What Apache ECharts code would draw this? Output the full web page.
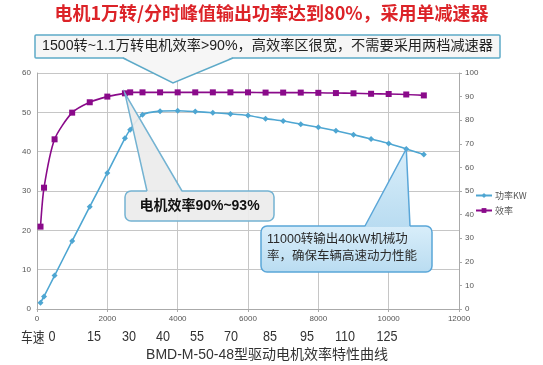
<!DOCTYPE html>
<html><head><meta charset="utf-8">
<script src="https://cdn.jsdelivr.net/npm/echarts@6/dist/echarts.min.js"></script>
<style>html,body{margin:0;padding:0;background:#fff}#c{width:543px;height:365px}</style>
</head><body><div id="c"></div>
<script>
// ---- data ----
const rpm   = [100,200,500,1000,1500,2000,2500,2650,3000,3500,4000,4500,5000,5500,6000,6500,7000,7500,8000,8500,9000,9500,10000,10500,11000];
const power = [1.6,3.2,8.5,17.3,26.0,34.6,43.4,45.6,49.4,50.3,50.4,50.2,49.9,49.6,49.2,48.4,47.8,47.0,46.2,45.3,44.3,43.2,42.1,40.7,39.3];
const eff   = [34.9,51.4,71.9,83.2,87.6,90.0,91.4,91.8,91.8,91.8,91.8,91.8,91.8,91.8,91.8,91.7,91.7,91.7,91.6,91.5,91.4,91.2,91.1,90.9,90.5];
const seriesNames = ['功率KW','效率'];
const speedLabels = ['0','15','30','40','55','70','85','95','110','125'];
const titleText = '电机1万转/分时峰值输出功率达到80%，采用单减速器';
const subTitle = 'BMD-M-50-48型驱动电机效率特性曲线';
const noteTop = '1500转~1.1万转电机效率>90%，高效率区很宽，不需要采用两档减速器';
const noteMid = '电机效率90%~93%';
const noteBot = '11000转输出40kW机械功\n率，确保车辆高速动力性能';

// ---- chart ----
const FF = 'Liberation Sans, Arial, Noto Sans CJK SC, sans-serif';
const chart = echarts.init(document.getElementById('c'));
const gridColor = '#c6c6c6';
const plain = v => String(v);
chart.setOption({
  animation:false,
  textStyle:{fontFamily:FF},
  grid:{left:37,right:84,top:73,bottom:56},
  xAxis:{type:'value',min:0,max:12000,interval:2000,
    axisLine:{lineStyle:{color:'#aaa'}},
    axisTick:{show:true,length:3,lineStyle:{color:'#aaa'}},
    axisLabel:{fontSize:8,color:'#555',margin:6,formatter:plain},
    splitLine:{show:true,lineStyle:{color:gridColor}}},
  yAxis:[
    {type:'value',min:0,max:60,interval:10,position:'left',
     axisLine:{show:true,lineStyle:{color:'#aaa'}},axisTick:{show:false},
     axisLabel:{fontSize:8,color:'#555',margin:6,formatter:plain},
     splitLine:{show:true,lineStyle:{color:gridColor}}},
    {type:'value',min:0,max:100,interval:10,position:'right',
     axisLine:{show:true,lineStyle:{color:'#aaa'}},
     axisTick:{show:true,length:3,lineStyle:{color:'#aaa'}},
     axisLabel:{fontSize:8,color:'#555',margin:6,formatter:plain},
     splitLine:{show:false}}
  ],
  legend:{orient:'vertical',left:470,top:186,itemWidth:16,itemHeight:6,itemGap:6,
    textStyle:{fontSize:9,color:'#555',fontFamily:'Noto Sans CJK SC, sans-serif',padding:[0,0,0,-2]},data:seriesNames},
  series:[
    {name:seriesNames[0],type:'line',data:rpm.map((x,i)=>[x,power[i]]),
     symbol:'diamond',symbolSize:6,smooth:0.25,z:3,
     lineStyle:{color:'#4ea6d2',width:1.6},itemStyle:{color:'#4ea6d2'}},
    {name:seriesNames[1],type:'line',yAxisIndex:1,data:rpm.map((x,i)=>[x,eff[i]]),
     symbol:'rect',symbolSize:6,smooth:0.25,z:3,
     lineStyle:{color:'#8a0a8a',width:1.6},itemStyle:{color:'#8a0a8a'}}
  ]
});

// ---- annotations ----
const midTip = chart.convertToPixel({xAxisIndex:0,yAxisIndex:1},[rpm[6],eff[6]]);
const botTip = chart.convertToPixel({xAxisIndex:0,yAxisIndex:0},[rpm[23],power[23]]);
const speedX = [52,94,129,163,197,231,270,307,345,387];

function callout(box, base, tip, fill, stroke, r){
  const [x0,y0,x1,y1] = box;
  return [
    {type:'rect',shape:{x:x0,y:y0,width:x1-x0,height:y1-y0,r:r},style:{fill:fill,stroke:stroke,lineWidth:1.5},z:10},
    {type:'polygon',shape:{points:[[base[0],y0+1],tip,[base[1],y0+1]]},style:{fill:fill,stroke:null},z:11},
    {type:'polyline',shape:{points:[[base[0],y0],tip,[base[1],y0]]},style:{stroke:stroke,lineWidth:1.5,fill:null},z:12}
  ];
}
function calloutDown(box, base, tip, fill, stroke, r){
  const [x0,y0,x1,y1] = box;
  return [
    {type:'rect',shape:{x:x0,y:y0,width:x1-x0,height:y1-y0,r:r},style:{fill:fill,stroke:stroke,lineWidth:1.5},z:10},
    {type:'polygon',shape:{points:[[base[0],y1-1],tip,[base[1],y1-1]]},style:{fill:fill,stroke:null},z:11},
    {type:'polyline',shape:{points:[[base[0],y1],tip,[base[1],y1]]},style:{stroke:stroke,lineWidth:1.5,fill:null},z:12}
  ];
}
function squishText(x, y, text, font, align){
  return {type:'group',x:x,y:y,scaleX:0.84,z:20,children:[
    {type:'text',x:0,y:0,style:{text:text,fill:'#333',font:font,align:align||'left',verticalAlign:'middle'},z:20}]};
}

const g = [];
g.push({type:'text',left:'center',top:4,style:{text:titleText,fill:'#dc2328',font:'bold 18px Noto Sans CJK SC, sans-serif'},z:20});
g.push(...calloutDown([35,35,500,58],[123,233],[173,83],'#f6f6f6','#5eaac8',1));
g.push({type:'text',x:42,y:46.5,style:{text:noteTop,fill:'#222',font:'14.2px Liberation Sans, Noto Sans CJK SC, sans-serif',verticalAlign:'middle'},z:20});
g.push(...callout([125,191,274,221],[147,182],midTip,'rgba(236,236,236,0.92)','#74b3d2',6));
g.push({type:'text',x:199.5,y:206,style:{text:noteMid,fill:'#111',font:'bold 14px Liberation Sans, Noto Sans CJK SC, sans-serif',align:'center',verticalAlign:'middle'},z:20});
g.push(...callout([261,226,432,272],[365,410],botTip,
  {type:'linear',x:0,y:0,x2:0,y2:1,colorStops:[{offset:0,color:'#d9eefa'},{offset:1,color:'#b9dcf1'}]},'#5aa6d8',6));
g.push({type:'text',x:267,y:231,style:{text:noteBot,fill:'#2a2a2a',font:'12.5px Liberation Sans, Noto Sans CJK SC, sans-serif',lineHeight:17},z:20});
g.push(squishText(21,337,'车速','14px Noto Sans CJK SC, sans-serif','left'));
speedLabels.forEach((s,i)=>{
  g.push(squishText(speedX[i],337,s,'15px Liberation Sans, sans-serif','center'));
});
g.push({type:'text',x:267,y:355,style:{text:subTitle,fill:'#333',font:'14px Liberation Sans, Noto Sans CJK SC, sans-serif',align:'center',verticalAlign:'middle'},z:20});
chart.setOption({graphic:g});
</script></body></html>
